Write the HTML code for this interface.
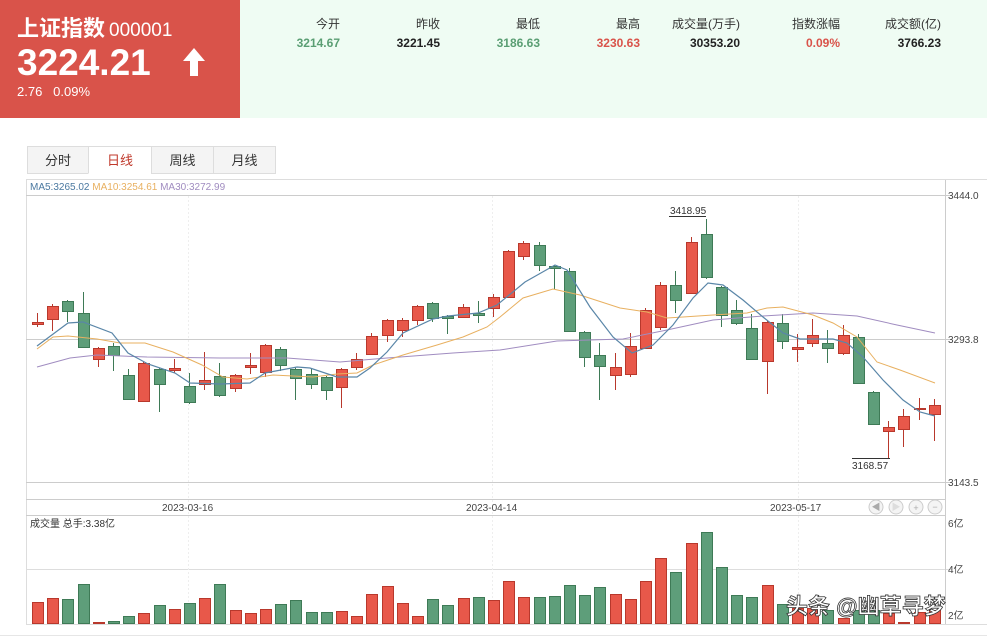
<!DOCTYPE html>
<html><head><meta charset="utf-8">
<style>
body{margin:0;width:987px;height:637px;overflow:hidden;background:#fff;font-family:"Liberation Sans","Noto Sans CJK SC",sans-serif;position:relative}
.hd{position:absolute;left:0;top:0;width:240px;height:118px;background:#d9534a;color:#fff}
.hr{position:absolute;left:240px;top:0;width:747px;height:118px;background:#effcf3}
.st{position:absolute;text-align:right;width:110px;font-size:12px}
.st .l{color:#333;position:absolute;right:0;top:15px;white-space:nowrap}
.st .v{font-weight:bold;position:absolute;right:0;top:36px;white-space:nowrap}
.tab{position:absolute;top:146px;height:28px;line-height:28px;text-align:center;font-size:13px;color:#333;background:#f4f4f4;border:1px solid #ddd;box-sizing:border-box}
</style></head><body>
<div class="hd">
<div style="position:absolute;left:17px;top:11px;font-size:22px;font-weight:bold;white-space:nowrap">上证指数<span style="font-weight:normal;font-size:19px;margin-left:4px">000001</span></div>
<div style="position:absolute;left:17px;top:42px;font-size:37px;font-weight:bold">3224.21</div>
<svg style="position:absolute;left:183px;top:48px" width="22" height="28"><path d="M11 0L22 13H15V28H7V13H0Z" fill="#fff"/></svg>
<div style="position:absolute;left:17px;top:84px;font-size:13px">2.76&nbsp;&nbsp;&nbsp;0.09%</div>
</div>
<div class="hr"></div>
<div class="st" style="left:230px"><span class="l">今开</span><span class="v" style="color:#5a9e73">3214.67</span></div>
<div class="st" style="left:330px"><span class="l">昨收</span><span class="v" style="color:#222">3221.45</span></div>
<div class="st" style="left:430px"><span class="l">最低</span><span class="v" style="color:#5a9e73">3186.63</span></div>
<div class="st" style="left:530px"><span class="l">最高</span><span class="v" style="color:#d9534a">3230.63</span></div>
<div class="st" style="left:630px"><span class="l">成交量(万手)</span><span class="v" style="color:#222">30353.20</span></div>
<div class="st" style="left:730px"><span class="l">指数涨幅</span><span class="v" style="color:#d9534a">0.09%</span></div>
<div class="st" style="left:831px"><span class="l">成交额(亿)</span><span class="v" style="color:#222">3766.23</span></div>

<div class="tab" style="left:27px;width:62px">分时</div>
<div class="tab" style="left:88px;width:64px;background:#fff;color:#c0392b;border-bottom-color:#fff">日线</div>
<div class="tab" style="left:151px;width:63px">周线</div>
<div class="tab" style="left:213px;width:63px">月线</div>

<svg id="c" style="position:absolute;left:0;top:0" width="987" height="637" font-family="Liberation Sans, Noto Sans CJK SC, sans-serif">
<rect x="26.5" y="179.5" width="961" height="445" fill="none" stroke="#ddd"/>
<line x1="26" y1="195.5" x2="952" y2="195.5" stroke="#ccc"/>
<line x1="26" y1="339.5" x2="952" y2="339.5" stroke="#ccc"/>
<line x1="26" y1="482.5" x2="952" y2="482.5" stroke="#ccc"/>
<line x1="26" y1="499.5" x2="945" y2="499.5" stroke="#ccc"/>
<line x1="26" y1="515.5" x2="945" y2="515.5" stroke="#ccc"/>
<line x1="26" y1="569.5" x2="952" y2="569.5" stroke="#ddd"/>
<line x1="945.5" y1="180" x2="945.5" y2="624" stroke="#ccc"/>
<g stroke="#eee" stroke-dasharray="2,2"><line x1="188.5" y1="196" x2="188.5" y2="624"/><line x1="492.5" y1="196" x2="492.5" y2="624"/><line x1="798.5" y1="196" x2="798.5" y2="624"/></g>
<line x1="0" y1="635.5" x2="987" y2="635.5" stroke="#e6e6e6"/>
<text x="30" y="190" font-size="10"><tspan fill="#4a78a0">MA5:3265.02 </tspan><tspan fill="#e8b060">MA10:3254.61 </tspan><tspan fill="#a08cc0">MA30:3272.99</tspan></text>
<g font-size="10" fill="#444"><text x="948" y="199">3444.0</text><text x="948" y="343">3293.8</text><text x="948" y="486">3143.5</text>
<text x="948" y="527">6亿</text><text x="948" y="573">4亿</text><text x="948" y="619">2亿</text>
<text x="162" y="511">2023-03-16</text><text x="466" y="511">2023-04-14</text><text x="770" y="511">2023-05-17</text>
<text x="30" y="527" fill="#333">成交量 总手:3.38亿</text>
<text x="670" y="214" fill="#333">3418.95</text><text x="852" y="469" fill="#333">3168.57</text></g>
<line x1="669" y1="216.5" x2="706" y2="216.5" stroke="#333"/>
<line x1="852" y1="458.5" x2="890" y2="458.5" stroke="#333"/>
<g fill="#f4f4f4" stroke="#ccc"><circle cx="876" cy="507" r="7"/><circle cx="896" cy="507" r="7"/><circle cx="916" cy="507" r="7"/><circle cx="935" cy="507" r="7"/></g>
<g fill="#aaa" font-size="9" text-anchor="middle"><text x="876" y="510">◀</text><text x="896" y="510" fill="#ddd">▶</text><text x="916" y="511">+</text><text x="935" y="510">−</text></g>
<g id="cd"></g>
<polyline fill="none" stroke="#a08cc0" stroke-width="1" points="37,367 70,358 97,355 147,357 220,358 287,358 340,362 387,358 453,353 500,350 557,341 623,339 667,330 713,320 763,316 813,313 857,316 897,325 935,333"/>
<polyline fill="none" stroke="#e8b060" stroke-width="1" points="37,349 53,337 68,336 97,339 120,343 145,343 173,352 202,365 223,377 247,379 273,375 313,377 337,374 357,373 373,365 403,355 437,345 463,337 487,327 500,317 523,298 553,289 580,295 620,308 647,312 667,318 683,317 713,315 747,313 767,308 783,307 813,315 833,323 857,337 877,362 900,370 935,383"/>
<polyline fill="none" stroke="#5a86a8" stroke-width="1.2" points="37,346 68,323 83,322 112,333 128,353 148,364 175,373 190,383 220,384 250,383 265,373 297,367 310,368 337,377 357,377 370,368 387,352 403,333 433,319 448,316 478,313 497,305 525,282 555,265 567,270 590,307 613,337 632,353 653,345 673,325 693,298 708,283 723,285 743,300 763,317 783,333 800,339 833,339 847,343 863,357 883,380 903,400 920,412 935,416"/>
<text x="786" y="614" font-size="22" fill="#fff" stroke="#333" stroke-width="0.8" font-weight="bold">头条 @幽草寻梦</text>
</svg>
<script>
var R='r',G='g';
var d=[[R,322,324,313,327],[R,306,319,304,331],[G,301,311,300,322],[G,313,347,292,347],[R,348,359,347,367],[G,346,355,343,371],[G,375,399,369,400],[R,363,401,362,401],[G,369,384,368,412],[R,368,370,359,373],[G,386,402,373,404],[R,380,384,352,390],[G,376,395,363,397],[R,375,388,374,392],[R,365,367,353,374],[R,345,372,344,377],[G,349,365,347,371],[G,369,378,367,400],[G,374,384,368,389],[G,377,390,376,400],[R,369,387,368,408],[R,359,367,353,370],[R,336,354,333,355],[R,320,335,319,342],[R,320,330,318,337],[R,306,320,305,325],[G,303,318,302,322],[G,316,318,315,334],[R,307,317,304,318],[G,313,315,301,323],[R,297,308,294,317],[R,251,297,250,298],[R,243,256,241,260],[G,245,265,242,271],[G,266,268,265,289],[G,271,331,268,332],[G,332,357,331,367],[G,355,366,343,400],[R,367,375,353,390],[R,346,374,333,377],[R,310,348,308,349],[R,285,327,282,330],[G,285,300,271,313],[R,242,293,237,294],[G,234,277,219,279],[G,287,315,286,327],[G,310,323,300,325],[G,328,359,314,360],[R,322,361,321,394],[G,323,341,314,349],[R,347,349,334,362],[R,335,343,319,347],[G,343,348,330,363],[R,335,353,325,355],[G,337,383,334,383],[G,392,424,391,424],[R,427,431,421,458],[R,416,429,409,447],[R,408,409,398,420],[R,405,414,399,441]];
var v=[602,598,599,584,622,621,616,613,605,609,603,598,584,610,613,609,604,600,612,612,611,616,594,586,603,616,599,605,598,597,600,581,597,597,596,585,595,587,594,599,581,558,572,543,532,567,595,597,585,604,608,608,610,618,610,610,613,622,612,610];
var s='';
for(var i=0;i<d.length;i++){var c=d[i],x=Math.round(37+i*15.2),f=c[0]==R?'#e8584a':'#5e9e7a',k=c[0]==R?'#b8382c':'#3e7a56';
s+='<line x1="'+(x+.5)+'" y1="'+c[3]+'" x2="'+(x+.5)+'" y2="'+c[4]+'" stroke="'+k+'"/>';
s+='<rect x="'+(x-5)+'.5" y="'+c[1]+'.5" width="11" height="'+Math.max(1,c[2]-c[1])+'" fill="'+f+'" stroke="'+k+'"/>';
s+='<rect x="'+(x-5)+'.5" y="'+v[i]+'.5" width="11" height="'+(623-v[i])+'" fill="'+f+'" stroke="'+k+'"/>';}
document.getElementById('cd').innerHTML=s;
</script>
</body></html>
